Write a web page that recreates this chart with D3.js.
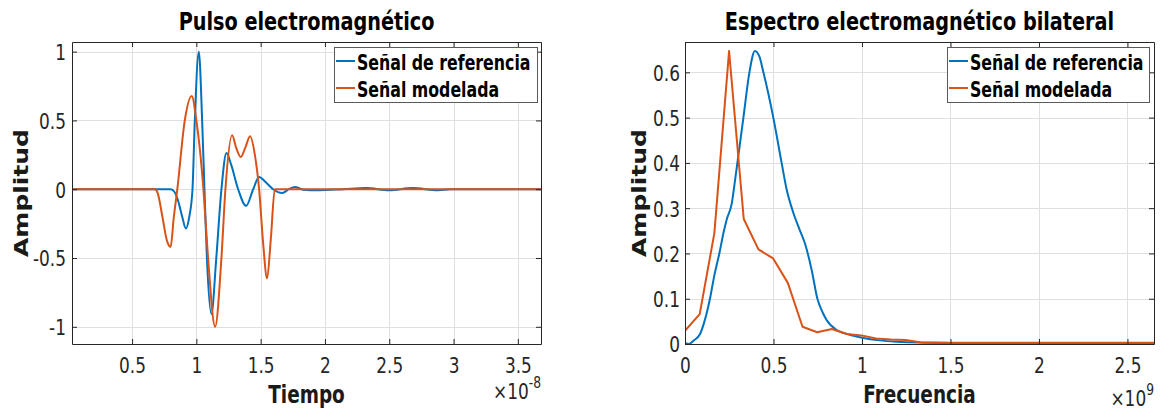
<!DOCTYPE html>
<html><head><meta charset="utf-8">
<script src="https://cdn.jsdelivr.net/npm/d3@7"></script>
<style>body{margin:0;background:#fff} svg{display:block}</style>
</head><body>
<svg id="c" width="1165" height="411"></svg>
<script>
// ---------- DATA ----------
// Pulse (time in units of 1e-8 s)
const tiempoTicks = [0.5, 1, 1.5, 2, 2.5, 3, 3.5];
const ampPulsoTicks = [-1, -0.5, 0, 0.5, 1];
const tiempoRef = [0.033, 0.80, 0.83, 0.86, 0.89, 0.918, 0.945, 0.97, 0.988, 1.019, 1.045, 1.063, 1.082, 1.117, 1.155, 1.195, 1.234, 1.27, 1.325, 1.387, 1.442, 1.488, 1.54, 1.597, 1.667, 1.72, 1.765, 1.83, 1.95, 2.14, 2.32, 2.5, 2.68, 2.88, 2.98, 3.68];
const pulsoRef  = [0, 0, -0.02, -0.09, -0.2, -0.285, -0.2, 0, 0.5, 1.0, 0.5, 0, -0.5, -0.907, -0.5, 0, 0.264, 0.18, 0, -0.121, 0, 0.089, 0.05, 0, -0.027, 0, 0.017, -0.003, -0.007, 0, 0.008, -0.007, 0.008, -0.007, 0, 0];
const tiempoMod = [0.033, 0.677, 0.70, 0.736, 0.77, 0.80, 0.825, 0.852, 0.91, 0.964, 1.0, 1.055, 1.091, 1.146, 1.195, 1.226, 1.278, 1.31, 1.345, 1.38, 1.418, 1.455, 1.488, 1.52, 1.55, 1.58, 1.61, 3.68];
const pulsoMod  = [0, 0, -0.03, -0.2, -0.37, -0.419, -0.2, 0, 0.5, 0.677, 0.5, 0, -0.5, -0.999, -0.5, 0, 0.392, 0.3, 0.235, 0.3, 0.385, 0.25, 0, -0.4, -0.648, -0.35, 0, 0];

// Spectrum (frequency in units of 1e9 Hz)
const freqTicks = [0, 0.5, 1, 1.5, 2, 2.5];
const ampEspTicks = [0, 0.1, 0.2, 0.3, 0.4, 0.5, 0.6];
const freqRef = [0, 0.02, 0.05, 0.085, 0.11, 0.141, 0.165, 0.194, 0.22, 0.235, 0.264, 0.288, 0.33, 0.364, 0.395, 0.42, 0.443, 0.499, 0.546, 0.575, 0.612, 0.645, 0.678, 0.716, 0.748, 0.78, 0.80, 0.857, 0.9, 1.0, 1.1, 1.2, 1.35, 1.5, 2.0, 2.65];
const espRef  = [0.003, 0.0, 0.008, 0.022, 0.05, 0.1, 0.15, 0.2, 0.25, 0.274, 0.31, 0.377, 0.5, 0.6, 0.647, 0.635, 0.6, 0.5, 0.4, 0.34, 0.29, 0.255, 0.222, 0.163, 0.1, 0.068, 0.053, 0.031, 0.024, 0.014, 0.008, 0.005, 0.003, 0.002, 0.001, 0.001];
const freqMod = [0, 0.083, 0.166, 0.249, 0.332, 0.415, 0.498, 0.581, 0.664, 0.747, 0.83, 0.913, 0.996, 1.079, 1.162, 1.245, 1.328, 1.5, 2.0, 2.65];
const espMod  = [0.029, 0.066, 0.245, 0.647, 0.276, 0.209, 0.189, 0.135, 0.038, 0.026, 0.033, 0.022, 0.019, 0.012, 0.010, 0.009, 0.004, 0.003, 0.003, 0.003];

const nombres = ["Señal de referencia", "Señal modelada"];

// ---------- STYLE ----------
const SQ = 0.77;
const FONT = "DejaVu Sans";
const AX = "#262626", GRID = "#dfdfdf";
const C_REF = "#0072BD", C_MOD = "#D95319";
const svg = d3.select("#c");

function label(g, x, y, str, o = {}) {
  const tr = o.rotate ? `translate(${x},${y}) rotate(${o.rotate}) scale(1,${SQ})` : `translate(${x},${y}) scale(${SQ},1)`;
  return g.append("text").attr("transform", tr)
    .attr("font-family", FONT).attr("font-size", o.size || 22)
    .attr("font-weight", o.weight || "normal").attr("fill", o.fill || AX)
    .attr("text-anchor", o.anchor || "middle").text(str);
}
const fmt = d => String(d);

function panel(cfg) {
  const { x0, x1, y0, y1 } = cfg;
  const x = d3.scaleLinear().domain(cfg.xDomain).range([x0, x1]);
  const y = d3.scaleLinear().domain(cfg.yDomain).range([y1, y0]);
  const g = svg.append("g");
  // grid
  g.append("g").selectAll("line").data(cfg.xTicks).join("line")
    .attr("x1", d => Math.round(x(d)) + 0.5).attr("x2", d => Math.round(x(d)) + 0.5)
    .attr("y1", y0).attr("y2", y1).attr("stroke", GRID);
  g.append("g").selectAll("line").data(cfg.yTicks).join("line")
    .attr("y1", d => Math.round(y(d)) + 0.5).attr("y2", d => Math.round(y(d)) + 0.5)
    .attr("x1", x0).attr("x2", x1).attr("stroke", GRID);
  // clip + lines
  const id = "clip" + cfg.id;
  svg.append("clipPath").attr("id", id).append("rect")
    .attr("x", x0).attr("y", y0).attr("width", x1 - x0).attr("height", y1 - y0);
  cfg.series.forEach(s => {
    const ln = d3.line().x(d => x(d[0])).y(d => y(d[1])).curve(s.curve);
    g.append("path").attr("clip-path", `url(#${id})`).datum(d3.zip(s.x, s.y))
      .attr("d", ln).attr("fill", "none").attr("stroke", s.color)
      .attr("stroke-width", 2).attr("stroke-linejoin", "round");
  });
  // axes
  const ax = (gen, tr) => g.append("g").attr("transform", tr).attr("color", AX).call(gen);
  const styleTxt = sel => sel.attr("font-family", FONT).attr("font-size", 22).attr("fill", AX);
  const bx = ax(d3.axisBottom(x).tickValues(cfg.xTicks).tickSizeInner(-5).tickSizeOuter(0).tickPadding(0).tickFormat(fmt), `translate(0,${y1})`);
  bx.selectAll("text").call(styleTxt).attr("y", 0).attr("dy", null)
    .attr("transform", `translate(0,29) scale(${SQ},1)`);
  const lx = ax(d3.axisLeft(y).tickValues(cfg.yTicks).tickSizeInner(-5).tickSizeOuter(0).tickPadding(0).tickFormat(fmt), `translate(${x0},0)`);
  lx.selectAll("text").call(styleTxt).attr("x", 0).attr("dy", "0.36em")
    .attr("transform", `translate(${-cfg.lpad},0) scale(${SQ},1)`);
  ax(d3.axisTop(x).tickValues(cfg.xTicks).tickSizeInner(-5).tickSizeOuter(0).tickFormat(""), `translate(0,${y0})`);
  ax(d3.axisRight(y).tickValues(cfg.yTicks).tickSizeInner(-5).tickSizeOuter(0).tickFormat(""), `translate(${x1},0)`);
  // labels
  const cx = (x0 + x1) / 2;
  label(svg, cx, 30, cfg.title, { size: 25, weight: "bold", fill: "#000" });
  label(svg, cx, 403, cfg.xlabel, { size: 24, weight: "bold", fill: "#1a1a1a" });
  label(svg, cfg.ylx, (y0 + y1) / 2, "Amplitud", { size: 25, weight: "bold", fill: "#1a1a1a", rotate: -90 });
  const ex = svg.append("text").attr("transform", `translate(${x1},${cfg.expY}) scale(${SQ},1)`)
    .attr("font-family", FONT).attr("font-size", 22).attr("fill", AX).attr("text-anchor", "end");
  ex.append("tspan").text("×10");
  ex.append("tspan").attr("dy", -11).attr("font-size", 16).text(cfg.exp);
  // legend
  const L = cfg.legend;
  const lg = svg.append("g");
  lg.append("rect").attr("x", L.x + 0.5).attr("y", L.y + 0.5).attr("width", L.w).attr("height", L.h)
    .attr("fill", "#fff").attr("stroke", "#5a5a5a").attr("stroke-width", 1);
  cfg.series.forEach((s, i) => {
    const yy = L.y + 14 + i * 27;
    lg.append("line").attr("x1", L.x + 2).attr("x2", L.x + 21).attr("y1", yy).attr("y2", yy)
      .attr("stroke", s.color).attr("stroke-width", 2);
    label(lg, L.x + 23, yy + 8.5, s.name, { size: 20.5, weight: "bold", fill: "#000", anchor: "start" });
  });
}

panel({
  id: "a", x0: 72, x1: 541, y0: 42, y1: 344,
  xDomain: [0.033, 3.68], yDomain: [-1.125, 1.07],
  xTicks: tiempoTicks, yTicks: ampPulsoTicks, lpad: 6,
  title: "Pulso electromagnético", xlabel: "Tiempo", ylx: 28, expY: 399, exp: "-8",
  legend: { x: 334, y: 47, w: 203, h: 55 },
  series: [
    { x: tiempoRef, y: pulsoRef, color: C_REF, name: nombres[0], curve: d3.curveMonotoneX },
    { x: tiempoMod, y: pulsoMod, color: C_MOD, name: nombres[1], curve: d3.curveMonotoneX }
  ]
});
panel({
  id: "b", x0: 685, x1: 1154, y0: 42, y1: 344,
  xDomain: [0, 2.65], yDomain: [0, 0.667],
  xTicks: freqTicks, yTicks: ampEspTicks, lpad: 5,
  title: "Espectro electromagnético bilateral", xlabel: "Frecuencia", ylx: 646, expY: 406, exp: "9",
  legend: { x: 947, y: 47, w: 202, h: 55 },
  series: [
    { x: freqRef, y: espRef, color: C_REF, name: nombres[0], curve: d3.curveMonotoneX },
    { x: freqMod, y: espMod, color: C_MOD, name: nombres[1], curve: d3.curveLinear }
  ]
});
</script>
</body></html>
